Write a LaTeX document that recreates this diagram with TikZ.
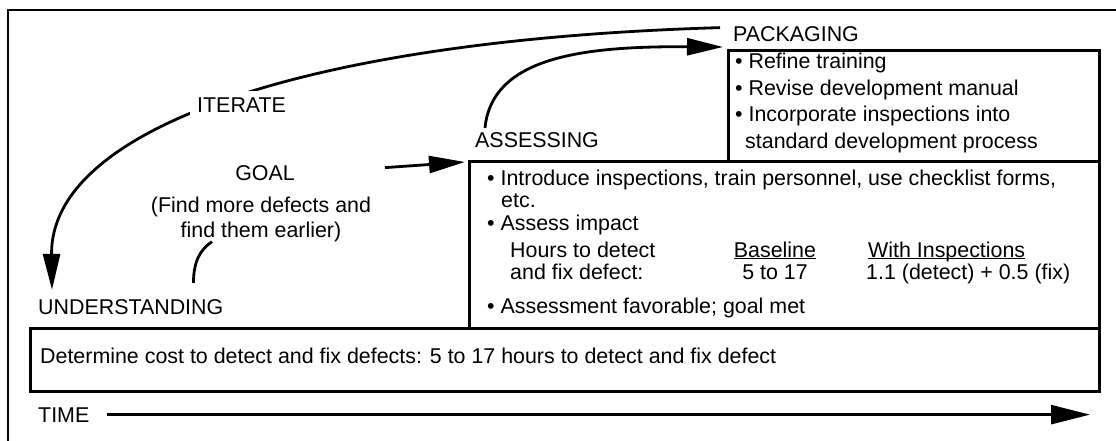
\documentclass[tikz,border=0pt]{standalone}
\usepackage{fontspec}
\setmainfont{Liberation Sans}
\usetikzlibrary{arrows.meta}
\begin{document}
\begin{tikzpicture}[x=1pt,y=-1pt,
    every node/.style={font=\fontsize{21.4}{25}\selectfont,inner sep=0pt},
    txt/.style={anchor=base west},
    box/.style={draw,line width=2.6pt,anchor=north west,minimum width=#1},
    bigarrow/.style={line width=2.8pt,-{Triangle[length=36pt,width=17pt]}}]
  \useasboundingbox (0,0) rectangle (1116,441);
  \clip (0,0) rectangle (1116,441);
  \draw [line width=2pt] (8,460) -- (8,10) -- (1140,10);
  % the three phases
  \node [box=371pt,minimum height=111pt] (pkgbox) at (727,49) {};
  \node [box=630pt,minimum height=167pt] (assbox) at (468,160) {};
  \node [box=1069pt,minimum height=63pt] (undbox) at (29,327) {};
  \node [txt] (pkg) at (733,42) {PACKAGING};
  \node [txt] (ass) at (475,147) {ASSESSING};
  \node [txt] (und) at (38,314) {UNDERSTANDING};
  \node [txt] (time) at (38,422) {TIME};
  \node [anchor=base] (goal) at (265,180) {GOAL};
  \node [anchor=base] (find1) at (261,212) {(Find more defects and};
  \node [anchor=base] (find2) at (261,237) {find them earlier)};
  \node [txt] (p1) at (735,69) {\textbullet\ Refine training};
  \node [txt] (p2) at (735,96) {\textbullet\ Revise development manual};
  \node [txt] (p3) at (735,122) {\textbullet\ Incorporate inspections into};
  \node [txt] (p4) at (745,148) {standard development process};
  \node [txt] (a1) at (487,185) {\textbullet\ Introduce inspections, train personnel, use checklist forms,};
  \node [txt] (a2) at (501,207) {etc.};
  \node [txt] (a3) at (487,230) {\textbullet\ Assess impact};
  \node [txt] (a4) at (510,257) {Hours to detect};
  \node [txt] (a5) at (510,279) {and fix defect:};
  \node [anchor=base] (base1) at (775,257) {\underline{\smash{Baseline}}};
  \node [anchor=base] (base2) at (775,279) {5 to 17};
  \node [txt] (insp1) at (868,257) {\underline{\smash{With Inspections}}};
  \node [txt] (insp2) at (866,279) {1.1 (detect) + 0.5 (fix)};
  \node [txt] (a6) at (487,313) {\textbullet\ Assessment favorable; goal met};
  \node [txt] (u1) at (40,363) {Determine cost to detect and fix defects: 5 to 17 hours to detect and fix defect};
  % arrows
  \draw [bigarrow] ([xshift=-13pt,yshift=7pt]pkg.west) .. controls (300,40) and (50,130) .. ([xshift=14pt,yshift=9pt]und.north west);
  \node [txt,fill=white,inner sep=7pt] (iter) at (190,113) {ITERATE};
  \draw [bigarrow] ([xshift=10pt,yshift=4pt]ass.north west) .. controls (492,58) and (580,46) .. ([xshift=-4pt,yshift=2pt]pkgbox.north west);
  \draw [bigarrow] ([xshift=90pt,yshift=5pt]goal.east) -- ([xshift=-3pt,yshift=-2pt]assbox.north west);
  \draw [line width=2.8pt] ([xshift=-30pt,yshift=16pt]und.north east) .. controls +(0,-21) and +(-12,8) .. ([xshift=-49pt]find2.south);
  \coordinate (tend) at (1090,0);
  \draw [line width=2.5pt,-{Triangle[length=39pt,width=19pt]}] ([xshift=17pt]time.east) -- (time.east -| tend);
\end{tikzpicture}
\end{document}
